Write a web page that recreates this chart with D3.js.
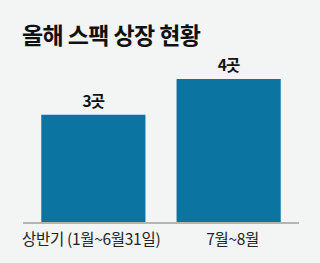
<!DOCTYPE html>
<html>
<head>
<meta charset="utf-8">
<script src="https://cdn.jsdelivr.net/npm/d3@7"></script>
<style>
  html, body { margin: 0; padding: 0; background: #f3f4f4; }
  svg { display: block; font-family: "Noto Sans CJK KR", "Noto Sans", sans-serif; }
</style>
</head>
<body>
<svg id="chart"></svg>
<script>
const width = 320;
const height = 263;

// data
const categories = ["상반기 (1월~6월31일)", "7월~8월"];
const values = [3, 4];
const valueLabels = ["3곳", "4곳"];

const svg = d3.select("#chart")
  .attr("width", width)
  .attr("height", height);

svg.append("rect")
  .attr("width", width)
  .attr("height", height)
  .attr("fill", "#f3f4f4");

// title
svg.append("text")
  .attr("x", 22)
  .attr("y", 44)
  .attr("font-size", 23)
  .attr("font-weight", 700)
  .attr("letter-spacing", -0.6)
  .attr("fill", "#111")
  .text("올해 스팩 상장 현황");

const baseY = 222;

const x = d3.scaleBand()
  .domain(categories)
  .range([23, 299])
  .paddingInner(0.23)
  .paddingOuter(0.135);

const y = d3.scaleLinear()
  .domain([0, 4])
  .range([baseY, 79]);

// bars
svg.selectAll("rect.bar")
  .data(values)
  .enter()
  .append("rect")
  .attr("class", "bar")
  .attr("x", (d, i) => x(categories[i]))
  .attr("y", d => y(d))
  .attr("width", x.bandwidth())
  .attr("height", d => baseY - y(d))
  .attr("fill", "#0b74a0");

// value labels
svg.selectAll("text.val")
  .data(values)
  .enter()
  .append("text")
  .attr("class", "val")
  .attr("x", (d, i) => x(categories[i]) + x.bandwidth() / 2)
  .attr("y", d => y(d) - 8)
  .attr("text-anchor", "middle")
  .attr("font-size", 15.5)
  .attr("font-weight", 700)
  .attr("letter-spacing", -0.8)
  .attr("fill", "#111")
  .text((d, i) => valueLabels[i]);

// baseline
svg.append("line")
  .attr("x1", 23)
  .attr("x2", 299)
  .attr("y1", baseY + 1)
  .attr("y2", baseY + 1)
  .attr("stroke", "#b4b4b4")
  .attr("stroke-width", 2);

// category labels: first one starts at the axis edge, second centred on its bar
svg.selectAll("text.cat")
  .data(categories)
  .enter()
  .append("text")
  .attr("class", "cat")
  .attr("x", (d, i) => i === 0 ? 22 : x(d) + x.bandwidth() / 2 + 4)
  .attr("y", 245)
  .attr("text-anchor", (d, i) => i === 0 ? "start" : "middle")
  .attr("font-size", 15.5)
  .attr("letter-spacing", -0.3)
  .attr("fill", "#222")
  .text(d => d);
</script>
</body>
</html>
